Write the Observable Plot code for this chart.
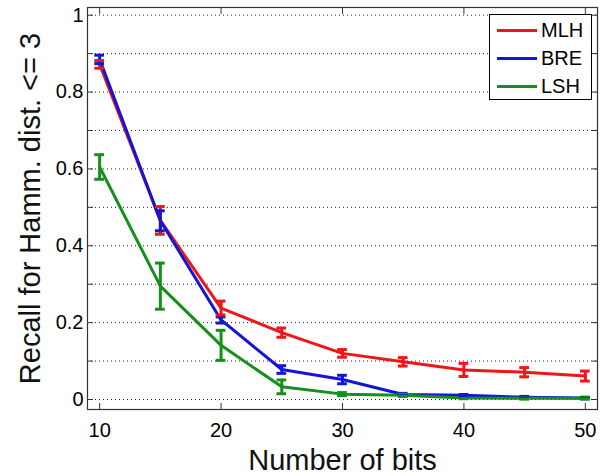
<!DOCTYPE html>
<html>
<head>
<meta charset="utf-8">
<script src="https://cdn.jsdelivr.net/npm/d3@7"></script>
<script src="https://cdn.jsdelivr.net/npm/@observablehq/plot@0.6"></script>
<style>
  html, body { margin: 0; padding: 0; background: #fff; }
  #wrap { position: relative; width: 600px; height: 476px; font-family: "Liberation Sans", Arial, sans-serif; }
  #legend { position: absolute; left: 489px; top: 14px; width: 101px; height: 84px; border: 1px solid #000; background: #fff; }
  .item { position: absolute; left: 0; height: 24px; width: 100%; }
  .swatch { position: absolute; left: 7px; top: 11px; width: 40px; height: 3px; }
  .lab { position: absolute; left: 51px; top: 0; font-size: 20px; line-height: 24px; color: #000; }
</style>
</head>
<body>
<div id="wrap"><div id="chart"></div><div id="legend"></div></div>
<script>
const bits = [10, 15, 20, 25, 30, 35, 40, 45, 50];
const seriesNames = ["MLH", "BRE", "LSH"];
const seriesColors = ["#ee1616", "#1414d4", "#15901a"];
const mlh    = [0.872, 0.466, 0.238, 0.174, 0.120, 0.098, 0.077, 0.071, 0.061];
const mlhErr = [0.010, 0.036, 0.018, 0.012, 0.010, 0.011, 0.017, 0.012, 0.013];
const bre    = [0.885, 0.465, 0.207, 0.078, 0.052, 0.013, 0.011, 0.006, 0.004];
const breErr = [0.011, 0.026, 0.008, 0.010, 0.011, 0.003, 0.002, 0.002, 0.002];
const lsh    = [0.605, 0.295, 0.141, 0.033, 0.014, 0.011, 0.004, 0.003, 0.003];
const lshErr = [0.032, 0.060, 0.039, 0.018, 0.004, 0.003, 0.002, 0.002, 0.002];
const xTicks = [10, 20, 30, 40, 50];
const yTicks = [0, 0.1, 0.2, 0.3, 0.4, 0.5, 0.6, 0.7, 0.8, 0.9, 1];
const yLabels = {0: "0", 0.2: "0.2", 0.4: "0.4", 0.6: "0.6", 0.8: "0.8", 1: "1"};
const xLabel = "Number of bits";
const yLabel = "Recall for Hamm. dist. <= 3";

const vals = [mlh, bre, lsh];
const errs = [mlhErr, breErr, lshErr];
const data = [];
seriesNames.forEach((s, i) => bits.forEach((b, j) => data.push({s, x: b, v: vals[i][j], e: errs[i][j]})));

const color = {domain: seriesNames, range: seriesColors};
const capHalf = 0.4;

const chart = Plot.plot({
  width: 600, height: 476,
  marginLeft: 87, marginRight: 3, marginTop: 7, marginBottom: 67,
  style: {fontFamily: "Liberation Sans, Arial, sans-serif", background: "#fff"},
  x: {domain: [9, 51]},
  y: {domain: [-0.026, 1.02]},
  color,
  marks: [
    Plot.ruleY(yTicks, {stroke: "#222", strokeDasharray: "1,3", strokeWidth: 1}),
    Plot.line(data, {x: "x", y: "v", z: "s", stroke: "s", strokeWidth: 3}),
    Plot.ruleX(data, {x: "x", y1: d => d.v - d.e, y2: d => d.v + d.e, stroke: "s", strokeWidth: 3}),
    Plot.ruleY(data, {y: d => d.v + d.e, x1: d => d.x - capHalf, x2: d => d.x + capHalf, stroke: "s", strokeWidth: 3}),
    Plot.ruleY(data, {y: d => d.v - d.e, x1: d => d.x - capHalf, x2: d => d.x + capHalf, stroke: "s", strokeWidth: 3}),
    Plot.frame({stroke: "#333", strokeWidth: 1.2}),
    Plot.axisX({anchor: "bottom", ticks: xTicks, tickSize: -6, tickPadding: 19, fontSize: 20, label: null, stroke: "#333"}),
    Plot.axisX({anchor: "top", ticks: xTicks, tickSize: -6, tickFormat: () => "", label: null, stroke: "#333"}),
    Plot.axisY({anchor: "left", ticks: yTicks, tickSize: -6, tickPadding: 10, fontSize: 20, label: null, stroke: "#333",
      tickFormat: d => yLabels[Math.round(d * 10) / 10] ?? ""}),
    Plot.axisY({anchor: "right", ticks: yTicks, tickSize: -6, tickFormat: () => "", label: null, stroke: "#333"}),
    Plot.text([yLabel], {frameAnchor: "left", textAnchor: "middle", rotate: -90, dx: -57, fontSize: 29, fill: "#111"}),
    Plot.text([xLabel], {frameAnchor: "bottom", textAnchor: "middle", dy: 60, fontSize: 29, fill: "#111"})
  ]
});
document.getElementById("chart").appendChild(chart);

const legend = document.getElementById("legend");
seriesNames.forEach((s, i) => {
  const it = document.createElement("div");
  it.className = "item";
  it.style.top = (3 + i * 28) + "px";
  it.innerHTML = `<div class="swatch" style="background:${seriesColors[i]}"></div><div class="lab">${s}</div>`;
  legend.appendChild(it);
});
</script>
</body>
</html>
